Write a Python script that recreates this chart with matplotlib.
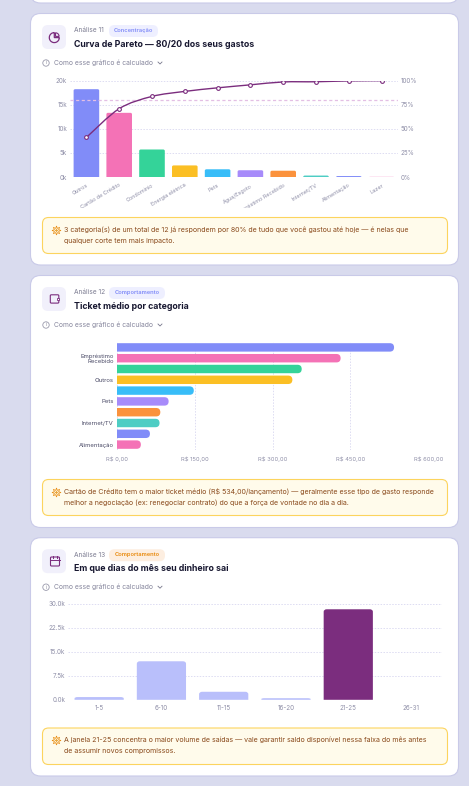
import numpy as np
import matplotlib
matplotlib.use('Agg')
import matplotlib.pyplot as plt
from matplotlib.patches import FancyBboxPatch, Circle, PathPatch, Wedge, Rectangle
from matplotlib.path import Path
from matplotlib.transforms import Bbox

plt.rcParams['font.family'] = ['Inter', 'DejaVu Sans']

W, H = 469, 786

pareto_cats = ['Outros', 'Cartão de Crédito', 'Condomínio', 'Energia elétrica', 'Pets',
               'Água/Esgoto', 'Empréstimo Recebido', 'Internet/TV', 'Alimentação', 'Lazer']
pareto_vals = [18200, 13300, 5700, 2400, 1600, 1400, 1300, 300, 200, 100]
pareto_pct = [41, 70.8, 83.5, 88.7, 92.4, 95.5, 98.5, 98.7, 99.6, 99.8]
pareto_colors = ['#818cf8', '#f472b6', '#34d399', '#fbbf24', '#38bdf8',
                 '#a78bfa', '#fb923c', '#4ecdc4', '#818cf8', '#fbcfe8']

ticket_cats = ['Cartão de Crédito', 'Empréstimo\nRecebido', 'Condomínio', 'Outros', 'Energia elétrica',
               'Pets', 'Água/Esgoto', 'Internet/TV', 'Lazer', 'Alimentação']
ticket_vals = [534, 431, 356, 338, 148, 99.5, 83.5, 82, 63.5, 46]
ticket_colors = ['#818cf8', '#f472b6', '#34d399', '#fbbf24', '#38bdf8',
                 '#a78bfa', '#fb923c', '#4ecdc4', '#818cf8', '#f472b6']
ticket_ticks = [0, 150, 300, 450, 600]
ticket_ticklabels = ['R$ 0,00', 'R$ 150,00', 'R$ 300,00', 'R$ 450,00', 'R$ 600,00']

dias_cats = ['1-5', '6-10', '11-15', '16-20', '21-25', '26-31']
dias_vals = [850, 12000, 2500, 500, 28200, 0]
dias_ticks = [0, 7500, 15000, 22500, 30000]
dias_ticklabels = ['0.0k', '7.5k', '15.0k', '22.5k', '30.0k']

GRID = '#dddcf2'
TICK = '#8f8fa8'
PURPLE = '#7b2d7e'


def px_axes(left, top, right, bottom):
    ax = fig.add_axes([left / W, 1 - bottom / H, (right - left) / W, (bottom - top) / H])
    ax.patch.set_alpha(0)
    for s in ax.spines.values():
        s.set_visible(False)
    ax.tick_params(length=0, labelcolor=TICK, labelsize=4.5, pad=2)
    return ax


def round_rect(x0, y0, x1, y1, r, **kw):
    p = FancyBboxPatch((x0 + r, y0 + r), x1 - x0 - 2 * r, y1 - y0 - 2 * r,
                       boxstyle='round,pad=%f,rounding_size=%f' % (r, r), **kw)
    bg.add_patch(p)


def rounded_bar(ax, x0, x1, y0, y1, rx, ry, color, right_only=False):
    # rounded top for columns, rounded right end for the horizontal bars
    if right_only:
        verts = [(x0, y0), (x1 - rx, y0), (x1, y0), (x1, y0 + ry), (x1, y1 - ry), (x1, y1),
                 (x1 - rx, y1), (x0, y1), (x0, y0)]
    else:
        verts = [(x0, y0), (x0, y1 - ry), (x0, y1), (x0 + rx, y1), (x1 - rx, y1), (x1, y1),
                 (x1, y1 - ry), (x1, y0), (x0, y0)]
    codes = [Path.MOVETO, Path.LINETO, Path.CURVE3, Path.CURVE3, Path.LINETO, Path.CURVE3,
             Path.CURVE3, Path.LINETO, Path.CLOSEPOLY]
    ax.add_patch(PathPatch(Path(verts, codes), facecolor=color, edgecolor='none', zorder=2))


def smooth_path(xs, ys):
    # catmull-rom through the points, kept monotone enough by the low tension
    xs, ys = np.array(xs, float), np.array(ys, float)
    verts = [(xs[0], ys[0])]
    codes = [Path.MOVETO]
    t = 0.16
    for i in range(len(xs) - 1):
        a = max(i - 1, 0)
        b = min(i + 2, len(xs) - 1)
        verts += [(xs[i] + (xs[i + 1] - xs[a]) * t, ys[i] + (ys[i + 1] - ys[a]) * t),
                  (xs[i + 1] - (xs[b] - xs[i]) * t, ys[i + 1] - (ys[b] - ys[i]) * t),
                  (xs[i + 1], ys[i + 1])]
        codes += [Path.CURVE4] * 3
    return Path(verts, codes)


def card_header(top, number, badge, badge_bg, badge_fg, badge_w, title):
    bg.add_patch(FancyBboxPatch((42 + 6, top + 11.5 + 6), 12, 12, boxstyle='round,pad=6,rounding_size=6',
                                facecolor='#f1f0fb', edgecolor='none'))
    bg.text(73.5, top + 17, number, fontsize=4.75, color='#7d7d92', va='center')
    round_rect(109, top + 11.5, 109 + badge_w, top + 23.5, 5.5, facecolor=badge_bg, edgecolor='none')
    bg.text(109 + badge_w / 2, top + 17, badge, fontsize=4.15, color=badge_fg, va='center', ha='center',
            fontweight='semibold')
    bg.text(73.5, top + 30.7, title, fontsize=6.3, color='#171730', va='center', fontweight='bold')
    # "como calcular" row
    cy = top + 49.5
    bg.add_patch(Circle((46, cy), 3.2, facecolor='none', edgecolor='#9a9aac', lw=0.6))
    bg.text(46, cy, 'i', fontsize=3.6, color='#8a8a9c', ha='center', va='center')
    bg.text(53.5, cy, 'Como esse gráfico é calculado', fontsize=4.85, color='#85859c', va='center')
    bg.plot([158, 160, 162], [cy - 1, cy + 1, cy - 1], color='#77778c', lw=0.6)


def insight(top, bottom, line1, line2):
    round_rect(42.5, top, 447.5, bottom, 6, facecolor='#fffbeb', edgecolor='#fcd45e', lw=0.8)
    # sparkle icon, no installed font has the glyph
    bg.plot([55.5], [top + 12], marker=(8, 1, 0), ms=6.5, mfc='none', mec='#e8890c', mew=0.5)
    bg.plot([55.5], [top + 12], marker=(4, 1, 0), ms=3, color='#e8a53c', mew=0)
    bg.text(64.5, top + 12, line1, fontsize=5.07, color='#8a4a1c', va='center')
    bg.text(64.5, top + 23.2, line2, fontsize=5.07, color='#8a4a1c', va='center')


fig = plt.figure(figsize=(W / 100, H / 100), dpi=100, facecolor='#d9dbee')
bg = fig.add_axes([0, 0, 1, 1])
bg.set_xlim(0, W)
bg.set_ylim(H, 0)
bg.axis('off')

for top, bottom in [(-30, 3), (13.5, 265), (275.5, 527.5), (537.7, 776)]:
    round_rect(30.5, top, 458.5, bottom, 10, facecolor='white', edgecolor='#c9cae8', lw=0.8)

# card 1
card_header(13.5, 'Análise 11', 'Concentração', '#eeefff', '#818cf8', 49,
            'Curva de Pareto — 80/20 dos seus gastos')
bg.add_patch(Wedge((54.3, 37.6), 5, 0, 270, facecolor='none', edgecolor=PURPLE, lw=0.9))
bg.add_patch(Wedge((55.5, 36.4), 3.6, -90, 0, facecolor='none', edgecolor=PURPLE, lw=0.8))

ax = px_axes(70, 80.5, 398, 177)
x = np.arange(len(pareto_cats))
ax.set_xlim(-0.5, len(x) - 0.5)
ax.set_ylim(0, 20000)
ax.set_yticks([0, 5000, 10000, 15000, 20000])
ax.set_yticklabels(['0k', '5k', '10k', '15k', '20k'])
ax.grid(axis='y', color=GRID, lw=0.7, dashes=(1.5, 1.5), zorder=0)
ax.set_axisbelow(True)
for i, v in enumerate(pareto_vals):
    rounded_bar(ax, i - 0.39, i + 0.39, 0, v, 0.05, 300, pareto_colors[i])
ax.set_xticks(x)
ax.set_xticklabels(pareto_cats, rotation=31, ha='right', va='top', rotation_mode='anchor', fontsize=3.95)
for lab in ax.get_xticklabels():
    lab.set_clip_on(True)
    lab.set_clip_box(Bbox([[0, H - 208], [W, H]]))
ax.tick_params(axis='x', pad=4)

ax2 = ax.twinx()
ax2.patch.set_alpha(0)
for s in ax2.spines.values():
    s.set_visible(False)
ax2.set_ylim(0, 100)
ax2.set_yticks([0, 25, 50, 75, 100])
ax2.set_yticklabels(['0%', '25%', '50%', '75%', '100%'])
ax2.tick_params(length=0, labelcolor=TICK, labelsize=4.5, pad=2)
ax2.axhline(80, color='#e3bfe4', lw=0.9, dashes=(2.5, 2), zorder=1)
ax2.add_patch(PathPatch(smooth_path(x, pareto_pct), facecolor='none', edgecolor=PURPLE, lw=1.0, zorder=3))
ax2.plot(x, pareto_pct, ls='none', marker='o', ms=2.7, mfc='white', mec=PURPLE, mew=0.8, zorder=4)

insight(217.5, 253.5,
        '3 categoria(s) de um total de 12 já respondem por 80% de tudo que você gastou até hoje — é nelas que',
        'qualquer corte tem mais impacto.')

# card 2
card_header(275.5, 'Análise 12', 'Comportamento', '#eeefff', '#818cf8', 56, 'Ticket médio por categoria')
bg.add_patch(FancyBboxPatch((50.3, 294.8), 8.5, 8.3, boxstyle='round,pad=0,rounding_size=1',
                            facecolor='none', edgecolor=PURPLE, lw=0.8))
bg.add_patch(Rectangle((56.8, 297.8), 2.5, 2.5, facecolor='white', edgecolor=PURPLE, lw=0.6))

ax = px_axes(117, 342, 428.3, 450)
y = np.arange(len(ticket_cats))
ax.set_xlim(0, 600)
ax.set_ylim(len(y) - 0.5, -0.5)
ax.set_xticks(ticket_ticks)
ax.set_xticklabels(ticket_ticklabels, fontsize=4.2)
ax.set_yticks(y[1::2])
ax.set_yticklabels(ticket_cats[1::2], fontsize=4.3, color='#4a4a66', linespacing=1.0)
ax.tick_params(axis='y', labelcolor='#4a4a66', pad=2.5)
ax.tick_params(axis='x', pad=4.5)
ax.grid(axis='x', color=GRID, lw=0.7, dashes=(1.5, 1.5), zorder=0)
ax.set_axisbelow(True)
for i, v in enumerate(ticket_vals):
    rounded_bar(ax, 0, v, i - 0.39, i + 0.39, 8, 0.39, ticket_colors[i], right_only=True)

insight(479.5, 515.5,
        'Cartão de Crédito tem o maior ticket médio (R$ 534,00/lançamento) — geralmente esse tipo de gasto responde',
        'melhor a negociação (ex: renegociar contrato) do que a força de vontade no dia a dia.')

# card 3
card_header(537.7, 'Análise 13', 'Comportamento', '#fdeee0', '#e8890c', 56, 'Em que dias do mês seu dinheiro sai')
bg.add_patch(FancyBboxPatch((50.5, 557), 9, 9, boxstyle='round,pad=0,rounding_size=1',
                            facecolor='none', edgecolor=PURPLE, lw=0.8))
bg.plot([50.5, 59.5], [560, 560], color=PURPLE, lw=0.7)
bg.plot([52.8, 52.8], [555.5, 558], color=PURPLE, lw=0.7)
bg.plot([57.2, 57.2], [555.5, 558], color=PURPLE, lw=0.7)

ax = px_axes(68, 603.5, 441.7, 699.8)
x = np.arange(len(dias_cats))
ax.set_xlim(-0.5, len(x) - 0.5)
ax.set_ylim(0, 30000)
ax.set_yticks(dias_ticks)
ax.set_yticklabels(dias_ticklabels)
ax.set_xticks(x)
ax.set_xticklabels(dias_cats)
ax.tick_params(axis='x', pad=4)
ax.grid(axis='y', color=GRID, lw=0.7, dashes=(1.5, 1.5), zorder=0)
ax.set_axisbelow(True)
top_day = int(np.argmax(dias_vals))
for i, v in enumerate(dias_vals):
    if v > 0:
        rounded_bar(ax, i - 0.395, i + 0.395, 0, v, 0.05, 750 if v > 1000 else v / 2,
                    PURPLE if i == top_day else '#b9bffb')

insight(728, 764.5,
        'A janela 21-25 concentra o maior volume de saídas — vale garantir saldo disponível nessa faixa do mês antes',
        'de assumir novos compromissos.')

fig.savefig('out.png', dpi=100, facecolor=fig.get_facecolor())
